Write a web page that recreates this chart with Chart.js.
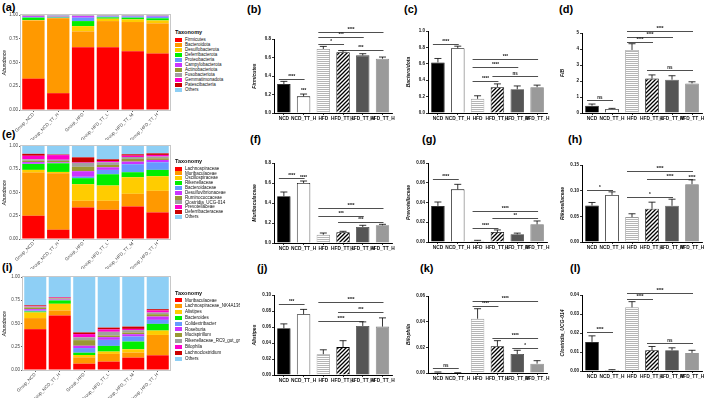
<!DOCTYPE html>
<html lang="en">
<head>
<meta charset="UTF-8">
<title>Gut microbiota composition</title>
<script src="https://cdn.jsdelivr.net/npm/chart.js"></script>
<style>
  body { margin: 0; background: #fff; width: 709px; height: 398px; position: relative; overflow: hidden;
         font-family: 'Liberation Sans', Arial, sans-serif; }
  canvas { position: absolute; }
  .rotulo { position: absolute; font-weight: bold; font-size: 11px; line-height: 11px; color: #000; }
  .legenda { position: absolute; overflow: hidden; color: #111; }
  .legenda .tit { position: absolute; left: 0; font-weight: bold; font-size: 5.5px; white-space: nowrap; }
  .legenda .item { position: absolute; left: 0; height: 5px; white-space: nowrap; font-size: 4.5px; line-height: 5px; }
  .legenda .cx { display: inline-block; width: 7px; height: 4px; vertical-align: middle; margin-right: 3px; }
</style>
</head>
<body>

<div class="rotulo" style="left:2px;top:2px">(a)</div>
<div class="rotulo" style="left:2px;top:129px">(e)</div>
<div class="rotulo" style="left:2px;top:262px">(i)</div>
<div class="rotulo" style="left:247px;top:4px">(b)</div>
<div class="rotulo" style="left:404px;top:4px">(c)</div>
<div class="rotulo" style="left:559px;top:4px">(d)</div>
<div class="rotulo" style="left:250px;top:134px">(f)</div>
<div class="rotulo" style="left:422px;top:134px">(g)</div>
<div class="rotulo" style="left:568px;top:134px">(h)</div>
<div class="rotulo" style="left:257px;top:263px">(j)</div>
<div class="rotulo" style="left:420px;top:263px">(k)</div>
<div class="rotulo" style="left:570px;top:263px">(l)</div>

<canvas id="cv-a"></canvas>
<canvas id="cv-e"></canvas>
<canvas id="cv-i"></canvas>
<canvas id="cv-b"></canvas>
<canvas id="cv-c"></canvas>
<canvas id="cv-d"></canvas>
<canvas id="cv-f"></canvas>
<canvas id="cv-g"></canvas>
<canvas id="cv-h"></canvas>
<canvas id="cv-j"></canvas>
<canvas id="cv-k"></canvas>
<canvas id="cv-l"></canvas>

<div class="legenda" id="leg-a"></div>
<div class="legenda" id="leg-e"></div>
<div class="legenda" id="leg-i"></div>

<script>
// ---- dados ----
const gruposAbund = ['Group_NCD', 'Group_NCD_TT_H', 'Group_HFD', 'Group_HFD_TT_L', 'Group_HFD_TT_M', 'Group_HFD_TT_H'];
const gruposBarra = ['NCD', 'NCD_TT_H', 'HFD', 'HFD_TT_L', 'HFD_TT_M', 'HFD_TT_H'];
const coresTaxon = ['#ff0000', '#ff9900', '#ffcc00', '#00ee00', '#6699ff', '#cc33ff', '#999933', '#a0a0a0', '#ff00cc', '#cc0000', '#8ecff5'];

// (a) filo
const filos = ['Firmicutes', 'Bacteroidota', 'Desulfobacterota', 'Deferribacterota', 'Proteobacteria', 'Campylobacterota',
               'Actinobacteriota', 'Fusobacteriota', 'Gemmatimonadota', 'Patescibacteria', 'Others'];
const filoAbund = [
  [0.330, 0.177, 0.661, 0.661, 0.618, 0.594],
  [0.613, 0.788, 0.166, 0.275, 0.308, 0.318],
  [0.004, 0.003, 0.056, 0.025, 0.028, 0.031],
  [0.025, 0.004, 0.053, 0.014, 0.018, 0.022],
  [0.008, 0.006, 0.036, 0.010, 0.012, 0.017],
  [0.010, 0.004, 0.017, 0.005, 0.006, 0.008],
  [0.002, 0.002, 0.002, 0.002, 0.002, 0.002],
  [0.002, 0.006, 0.001, 0.001, 0.001, 0.001],
  [0.001, 0.001, 0.001, 0.001, 0.001, 0.001],
  [0.001, 0.001, 0.001, 0.001, 0.001, 0.001],
  [0.004, 0.008, 0.006, 0.005, 0.005, 0.005]
];

// (e) familia
const familias = ['Lachnospiraceae', 'Muribaculaceae', 'Oscillospiraceae', 'Rikenellaceae', 'Bacteroidaceae', 'Desulfovibrionaceae',
                  'Ruminococcaceae', 'Clostridia_UCG-014', 'Prevotellaceae', 'Deferribacteraceae', 'Others'];
const familiaAbund = [
  [0.250, 0.100, 0.339, 0.314, 0.350, 0.286],
  [0.464, 0.607, 0.072, 0.097, 0.136, 0.232],
  [0.029, 0.014, 0.178, 0.164, 0.178, 0.157],
  [0.064, 0.093, 0.065, 0.121, 0.054, 0.068],
  [0.002, 0.002, 0.015, 0.047, 0.086, 0.082],
  [0.018, 0.008, 0.060, 0.028, 0.028, 0.025],
  [0.014, 0.015, 0.047, 0.025, 0.029, 0.018],
  [0.015, 0.013, 0.042, 0.029, 0.021, 0.018],
  [0.039, 0.050, 0.005, 0.014, 0.014, 0.018],
  [0.021, 0.006, 0.055, 0.018, 0.015, 0.017],
  [0.084, 0.092, 0.122, 0.143, 0.089, 0.079]
];

// (i) genero
const generos = ['Muribaculaceae', 'Lachnospiraceae_NK4A136_group', 'Alistipes', 'Bacteroides', 'Colidextribacter', 'Roseburia',
                 'Mucispirillum', 'Rikenellaceae_RC9_gut_group', 'Bilophila', 'Lachnoclostridium', 'Others'];
const generoAbund = [
  [0.439, 0.586, 0.068, 0.090, 0.133, 0.158],
  [0.119, 0.054, 0.068, 0.083, 0.054, 0.219],
  [0.061, 0.072, 0.025, 0.025, 0.036, 0.047],
  [0.010, 0.036, 0.025, 0.061, 0.083, 0.072],
  [0.010, 0.006, 0.050, 0.065, 0.054, 0.043],
  [0.015, 0.005, 0.025, 0.029, 0.025, 0.036],
  [0.018, 0.008, 0.060, 0.018, 0.018, 0.025],
  [0.010, 0.006, 0.030, 0.040, 0.025, 0.018],
  [0.007, 0.005, 0.035, 0.025, 0.014, 0.022],
  [0.007, 0.005, 0.018, 0.020, 0.025, 0.014],
  [0.304, 0.217, 0.596, 0.544, 0.533, 0.346]
];

// paineis de barras: media, erro (SEM), colchetes [de, ate, y, texto], marcas [grupo, y, texto]
const firmicutesMedia = [0.313, 0.180, 0.692, 0.656, 0.623, 0.587];
const firmicutesErro  = [0.029, 0.025, 0.028, 0.018, 0.018, 0.018];
const firmicutesSig   = [[0, 1, 0.371, '****'], [2, 3, 0.742, '*'], [2, 4, 0.825, '***'], [2, 5, 0.876, '****'], [3, 5, 0.685, '***']];
const firmicutesMarca = [[1, 0.212, '***']];

const bacteroidotaMedia = [0.617, 0.790, 0.173, 0.315, 0.290, 0.315];
const bacteroidotaErro  = [0.048, 0.025, 0.037, 0.040, 0.040, 0.025];
const bacteroidotaSig   = [[0, 1, 0.843, '****'], [2, 3, 0.390, '****'], [2, 4, 0.565, '****'], [2, 5, 0.657, '***'], [3, 5, 0.452, 'ns']];

const fbMedia = [0.46, 0.25, 3.94, 2.15, 2.08, 1.85];
const fbErro  = [0.10, 0.04, 0.39, 0.23, 0.25, 0.10];
const fbSig   = [[0, 1, 0.83, 'ns'], [2, 3, 4.44, '****'], [2, 4, 4.75, '****'], [2, 5, 5.12, '****'], [3, 5, 2.67, 'ns']];

const muribacMedia = [0.467, 0.600, 0.083, 0.107, 0.160, 0.177];
const muribacErro  = [0.043, 0.020, 0.017, 0.010, 0.017, 0.010];
const muribacSig   = [[0, 1, 0.647, '****'], [2, 5, 0.350, '****'], [2, 4, 0.273, '***'], [3, 5, 0.207, '***']];
const muribacMarca = [[1, 0.625, '****']];

const prevotMedia = [0.0365, 0.0533, 0.0013, 0.0101, 0.0078, 0.0179];
const prevotErro  = [0.0040, 0.0051, 0.0004, 0.0021, 0.0012, 0.0034];
const prevotSig   = [[0, 1, 0.0638, '****'], [2, 3, 0.0145, '****'], [2, 5, 0.0314, '****'], [3, 5, 0.0246, '**']];

const rikenMedia = [0.0711, 0.0918, 0.0485, 0.0647, 0.0705, 0.1126];
const rikenErro  = [0.0059, 0.0059, 0.0065, 0.0129, 0.0129, 0.0084];
const rikenSig   = [[0, 1, 0.1016, '*'], [2, 4, 0.0873, '*'], [2, 5, 0.1378, '****'], [3, 5, 0.1236, '****']];
const rikenMarca = [[5, 0.1215, '****']];

const alistipesMedia = [0.0584, 0.0760, 0.0260, 0.0349, 0.0613, 0.0605];
const alistipesErro  = [0.0055, 0.0060, 0.0055, 0.0080, 0.0051, 0.0109];
const alistipesSig   = [[0, 1, 0.0887, '***'], [2, 4, 0.0680, '****'], [2, 5, 0.0908, '****'], [3, 5, 0.0790, '***']];

const bilophilaMedia = [0.0005, 0.0001, 0.0423, 0.0208, 0.0148, 0.0073];
const bilophilaErro  = [0.0003, 0.0001, 0.0078, 0.0044, 0.0029, 0.0023];
const bilophilaSig   = [[0, 1, 0.0039, 'ns'], [2, 3, 0.0522, '****'], [2, 5, 0.0564, '****'], [3, 5, 0.0273, '****'], [4, 5, 0.0195, '*']];

const clostrMedia = [0.0153, 0.0005, 0.0335, 0.0109, 0.0109, 0.0095];
const clostrErro  = [0.0032, 0.0002, 0.0030, 0.0020, 0.0013, 0.0014];
const clostrSig   = [[0, 1, 0.0203, '****'], [2, 3, 0.0379, '****'], [2, 5, 0.0409, '****'], [3, 5, 0.0148, 'ns']];

// ---- estilo ----
const FONTE = "'Liberation Sans', Arial, sans-serif";

function listrasHorizontais() {
  const c = document.createElement('canvas'); c.width = 4; c.height = 2;
  const g = c.getContext('2d');
  g.fillStyle = '#fff'; g.fillRect(0, 0, 4, 2);
  g.fillStyle = '#b5b5b5'; g.fillRect(0, 1, 4, 1);
  return g.createPattern(c, 'repeat');
}
function listrasDiagonais() {
  const c = document.createElement('canvas'); c.width = 4; c.height = 4;
  const g = c.getContext('2d');
  g.fillStyle = '#fff'; g.fillRect(0, 0, 4, 4);
  g.strokeStyle = '#000'; g.lineWidth = 1.3;
  g.beginPath();
  g.moveTo(0, 4); g.lineTo(4, 0);
  g.moveTo(-1, 1); g.lineTo(1, -1);
  g.moveTo(3, 5); g.lineTo(5, 3);
  g.stroke();
  return g.createPattern(c, 'repeat');
}
const preenchBarra = ['#000', '#fff', listrasHorizontais(), listrasDiagonais(), '#555', '#9a9a9a'];
const bordaBarra = ['#000', '#000', '#999', '#000', '#444', '#777'];

function posicionar(cv, caixa) {
  cv.width = caixa.w; cv.height = caixa.h;
  cv.style.left = caixa.x + 'px'; cv.style.top = caixa.y + 'px';
  cv.style.width = caixa.w + 'px'; cv.style.height = caixa.h + 'px';
}

// moldura cinza do painel ggplot
const moldura = {
  id: 'moldura',
  afterDraw(chart) {
    const a = chart.chartArea, ctx = chart.ctx;
    ctx.save();
    ctx.strokeStyle = '#c8c8c8'; ctx.lineWidth = 1;
    ctx.strokeRect(a.left - 0.5, a.top - 0.5, a.right - a.left + 1, a.bottom - a.top + 1);
    ctx.restore();
  }
};

function painelAbund(id, caixa, area, nomes, valores) {
  const cv = document.getElementById(id);
  posicionar(cv, caixa);
  const YW = area.l - caixa.x - 1, XH = 30;
  new Chart(cv, {
    type: 'bar',
    data: {
      labels: gruposAbund,
      datasets: nomes.map((n, k) => ({
        label: n, data: valores[k], backgroundColor: coresTaxon[k], borderWidth: 0,
        barPercentage: 0.9, categoryPercentage: 1
      }))
    },
    options: {
      responsive: false, animation: false,
      layout: { padding: { left: 1, top: area.t - caixa.y, right: caixa.x + caixa.w - area.r, bottom: caixa.y + caixa.h - area.b - XH } },
      plugins: { legend: { display: false }, tooltip: { enabled: false } },
      scales: {
        x: {
          stacked: true,
          afterFit: s => { s.height = XH; },
          grid: { display: true, drawOnChartArea: false, offset: false, tickLength: 2, color: '#666' },
          border: { display: false },
          ticks: { autoSkip: false, minRotation: 45, maxRotation: 45, padding: 0, color: '#444', font: { size: 4.5, family: FONTE } }
        },
        y: {
          stacked: true, min: 0, max: 1,
          afterFit: s => { s.width = YW; },
          grid: { display: true, drawOnChartArea: false, tickLength: 2, color: '#666' },
          border: { display: false },
          ticks: { stepSize: 0.25, callback: v => v.toFixed(2), padding: 1, color: '#444', font: { size: 4.5, family: FONTE } },
          title: { display: true, text: 'Abundance', color: '#000', padding: { top: 1, bottom: 1 }, font: { size: 5, style: 'italic', family: FONTE } }
        }
      }
    },
    plugins: [moldura]
  });
}

function legenda(id, x, topo, passo, largura, nomes) {
  const d = document.getElementById(id);
  d.style.left = x + 'px'; d.style.top = (topo - 11) + 'px';
  d.style.width = largura + 'px'; d.style.height = (passo * nomes.length + 14) + 'px';
  let html = '<div class="tit" style="top:1px">Taxonomy</div>';
  nomes.forEach((n, k) => {
    html += '<div class="item" style="top:' + (8.5 + k * passo) + 'px"><span class="cx" style="background:' + coresTaxon[k] + '"></span>' + n + '</div>';
  });
  d.innerHTML = html;
}

// barras de erro, colchetes de significancia e marcas
function extras(medias, erros, sig, marcas) {
  return {
    id: 'extras',
    afterDatasetsDraw(chart) {
      const ctx = chart.ctx, sx = chart.scales.x, sy = chart.scales.y;
      const meta = chart.getDatasetMeta(0);
      ctx.save();
      ctx.strokeStyle = '#000'; ctx.fillStyle = '#111'; ctx.lineWidth = 0.8;
      erros.forEach((e, i) => {
        const cx = meta.data[i].x;
        const y0 = sy.getPixelForValue(medias[i]), y1 = sy.getPixelForValue(medias[i] + e);
        ctx.beginPath();
        ctx.moveTo(cx, y0); ctx.lineTo(cx, y1);
        ctx.moveTo(cx - 3.5, y1); ctx.lineTo(cx + 3.5, y1);
        ctx.stroke();
      });
      ctx.font = 'bold 4.5px ' + FONTE;
      ctx.textAlign = 'center'; ctx.textBaseline = 'bottom';
      ctx.strokeStyle = '#222';
      sig.forEach(([a, b, v, t]) => {
        const py = Math.round(sy.getPixelForValue(v)) + 0.5;
        const x1 = sx.getPixelForValue(a) - 5, x2 = sx.getPixelForValue(b) + 1;
        ctx.beginPath(); ctx.moveTo(x1, py); ctx.lineTo(x2, py); ctx.stroke();
        ctx.fillText(t, (x1 + x2) / 2, py - 0.5);
      });
      (marcas || []).forEach(([g, v, t]) => {
        ctx.fillText(t, sx.getPixelForValue(g), sy.getPixelForValue(v));
      });
      ctx.restore();
    }
  };
}

function painelBarras(id, caixa, area, medias, erros, sig, marcas, eixo, titulo) {
  const cv = document.getElementById(id);
  posicionar(cv, caixa);
  const YW = 26, XH = 12;
  new Chart(cv, {
    type: 'bar',
    data: {
      labels: gruposBarra,
      datasets: [{
        data: medias, backgroundColor: preenchBarra, borderColor: bordaBarra, borderWidth: 0.8,
        barPercentage: 0.68, categoryPercentage: 1
      }]
    },
    options: {
      responsive: false, animation: false,
      layout: { padding: { left: area.l - caixa.x - YW, top: area.t - caixa.y, right: caixa.x + caixa.w - area.r, bottom: caixa.y + caixa.h - area.b - XH } },
      plugins: { legend: { display: false }, tooltip: { enabled: false } },
      scales: {
        x: {
          afterFit: s => { s.height = XH; },
          grid: { display: true, drawOnChartArea: false, offset: false, tickLength: 2, color: '#000', lineWidth: 0.8 },
          border: { display: true, color: '#000', width: 1 },
          ticks: { autoSkip: false, maxRotation: 0, padding: 1, color: '#111', font: { size: 4.8, weight: 'bold', family: FONTE } }
        },
        y: {
          min: 0, max: eixo.max,
          afterFit: s => { s.width = YW; },
          grid: { display: true, drawOnChartArea: false, tickLength: 2, color: '#000', lineWidth: 0.8 },
          border: { display: true, color: '#000', width: 1 },
          ticks: { stepSize: eixo.passo, callback: v => v.toFixed(eixo.casas), padding: 1, color: '#111', font: { size: 4.5, weight: 'bold', family: FONTE } },
          title: { display: true, text: titulo, color: '#111', padding: { top: 4, bottom: 0 }, font: { size: 5, style: 'italic', weight: 'bold', family: FONTE } }
        }
      }
    },
    plugins: [extras(medias, erros, sig, marcas)]
  });
}

// ---- montagem ----
painelAbund('cv-a', { x: 0, y: 0, w: 172, h: 142 }, { l: 21, r: 170, t: 15, b: 110 }, filos, filoAbund);
painelAbund('cv-e', { x: 0, y: 130, w: 172, h: 142 }, { l: 21, r: 170, t: 146, b: 239 }, familias, familiaAbund);
painelAbund('cv-i', { x: 0, y: 263, w: 172, h: 135 }, { l: 23, r: 170, t: 277, b: 370 }, generos, generoAbund);

legenda('leg-a', 175, 39.3, 5.07, 64, filos);
legenda('leg-e', 175, 168.3, 4.83, 64, familias);
legenda('leg-i', 175, 300, 5.83, 65, generos);

painelBarras('cv-b', { x: 240, y: 0, w: 156, h: 130 }, { l: 274, r: 393, t: 39, b: 113 },
  firmicutesMedia, firmicutesErro, firmicutesSig, firmicutesMarca, { max: 0.8, passo: 0.2, casas: 1 }, 'Firmicutes');
painelBarras('cv-c', { x: 396, y: 0, w: 155, h: 130 }, { l: 428, r: 547, t: 31, b: 113 },
  bacteroidotaMedia, bacteroidotaErro, bacteroidotaSig, null, { max: 1.0, passo: 0.2, casas: 1 }, 'Bacteroidota');
painelBarras('cv-d', { x: 551, y: 0, w: 158, h: 130 }, { l: 582, r: 702, t: 33, b: 113 },
  fbMedia, fbErro, fbSig, null, { max: 5, passo: 1, casas: 0 }, 'F/B');

painelBarras('cv-f', { x: 240, y: 130, w: 156, h: 132 }, { l: 274, r: 393, t: 163, b: 243 },
  muribacMedia, muribacErro, muribacSig, muribacMarca, { max: 0.8, passo: 0.2, casas: 1 }, 'Muribaculaceae');
painelBarras('cv-g', { x: 396, y: 130, w: 155, h: 132 }, { l: 428, r: 547, t: 163, b: 242 },
  prevotMedia, prevotErro, prevotSig, null, { max: 0.08, passo: 0.02, casas: 2 }, 'Prevotellaceae');
painelBarras('cv-h', { x: 551, y: 130, w: 158, h: 132 }, { l: 582, r: 702, t: 165, b: 242 },
  rikenMedia, rikenErro, rikenSig, rikenMarca, { max: 0.15, passo: 0.05, casas: 2 }, 'Rikenellaceae');

painelBarras('cv-j', { x: 240, y: 262, w: 156, h: 136 }, { l: 274, r: 393, t: 295, b: 375 },
  alistipesMedia, alistipesErro, alistipesSig, null, { max: 0.10, passo: 0.02, casas: 2 }, 'Alistipes');
painelBarras('cv-k', { x: 396, y: 262, w: 155, h: 136 }, { l: 428, r: 547, t: 296, b: 373 },
  bilophilaMedia, bilophilaErro, bilophilaSig, null, { max: 0.06, passo: 0.02, casas: 2 }, 'Bilophila');
painelBarras('cv-l', { x: 551, y: 262, w: 158, h: 136 }, { l: 582, r: 702, t: 295, b: 371 },
  clostrMedia, clostrErro, clostrSig, null, { max: 0.04, passo: 0.01, casas: 2 }, 'Clostridia_UCG-014');
</script>
</body>
</html>
